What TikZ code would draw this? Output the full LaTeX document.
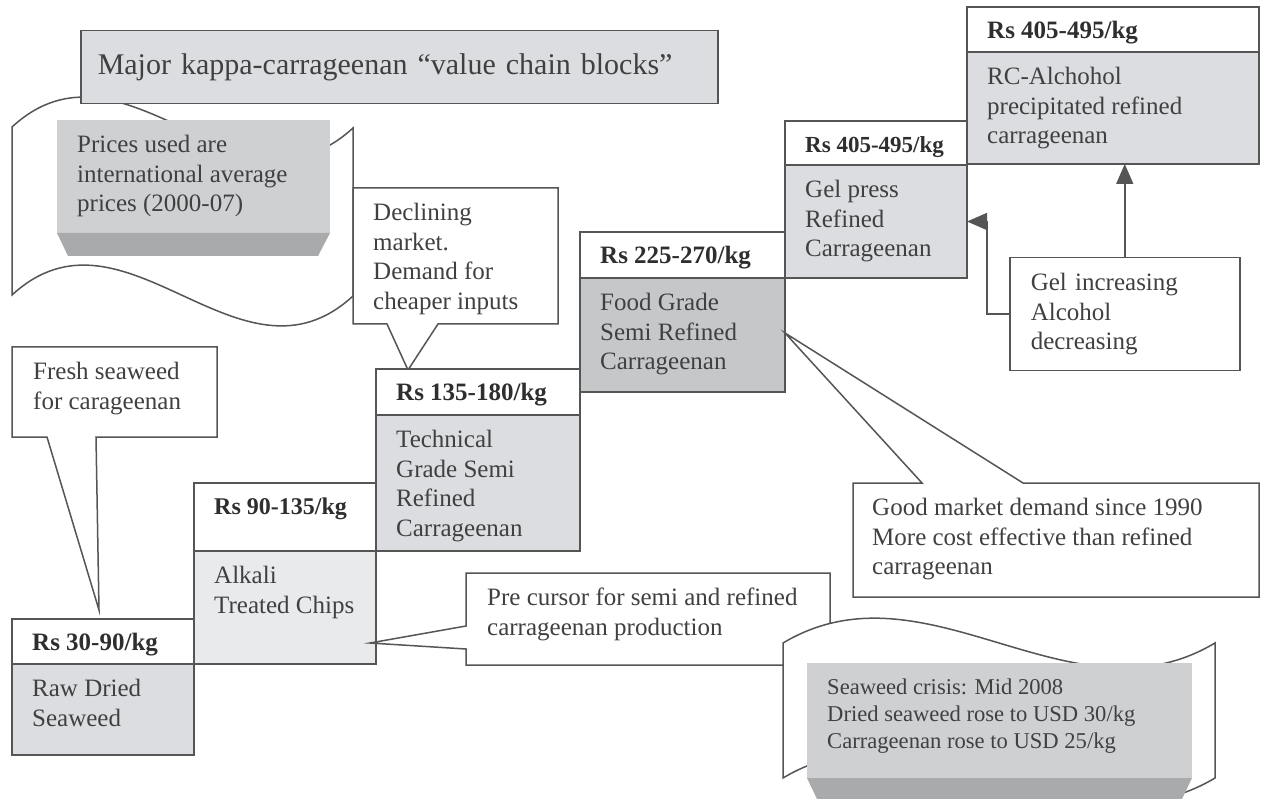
\documentclass[tikz,border=0pt]{standalone}
\usepackage{fontspec}
\setmainfont{Liberation Serif}
\usetikzlibrary{arrows.meta}
\usetikzlibrary{calc}
\usetikzlibrary{positioning}
\definecolor{linegray}{HTML}{555555}
\definecolor{textgray}{HTML}{404040}
\definecolor{pricegray}{HTML}{2E2E2E}
\definecolor{panelgray}{HTML}{DCDDE0}
\definecolor{palegray}{HTML}{E9EAEC}
\definecolor{darkgray}{HTML}{C6C7C9}
\definecolor{bevellight}{HTML}{CFD0D2}
\definecolor{beveldark}{HTML}{A9AAAC}
\newcommand{\bodyfont}{\fontsize{25}{29.5}\selectfont}
\newcommand{\smallbody}{\fontsize{22.6}{27}\selectfont}
\newcommand{\titlefont}{\fontsize{30}{36}\selectfont}
\tikzstyle{outline} = [draw=linegray, line width=1.5pt]
\tikzstyle{pricehead} = [outline, fill=white, anchor=north west, inner sep=0pt, outer sep=0pt]
\tikzstyle{pricebody} = [outline, inner sep=0pt, outer sep=0pt]
\tikzstyle{words} = [text=textgray, font=\bodyfont, align=left, inner sep=0pt, anchor=north west]
\tikzstyle{pricetag} = [text=pricegray, inner sep=0pt, anchor=west]
\tikzset{>={Triangle[length=20pt,width=17pt]}}

\begin{document}
\begin{tikzpicture}[x=1pt, y=-1pt]
  \useasboundingbox (0,0) rectangle (1261,799);
  % Wave banner, top left
  \draw[outline, fill=white] (12,127) .. controls (125,23) and (240,232) .. (353,128) -- (353,296) .. controls (240,400) and (125,191) .. (12,295) -- cycle;
  % Title
  \node[outline, fill=panelgray, anchor=north west, minimum width=637pt, minimum height=73pt, text width=603pt, inner xsep=17pt, align=left, text=textgray, font=\titlefont] (title) at (80,30) {Major kappa-carrageenan “value chain blocks”};
  % Bevelled note on the banner
  \fill[bevellight] (57,120) rectangle (330,233);
  \fill[beveldark] (57,233) -- (330,233) -- (318,256) -- (68,256) -- cycle;
  \node[words] (prices) at (77,135) {Prices used are\\international average\\prices (2000-07)};
  % Callouts above the steps
  \draw[outline, fill=white] (353,188) -- (558,188) -- (558,324) -- (438,324) -- (408,370) -- (387,324) -- (353,324) -- cycle;
  \node[words] (declining) at (373,203) {Declining\\market.\\Demand for\\cheaper inputs};
  \draw[outline, fill=white] (12,347) -- (217,347) -- (217,437) -- (96,437) -- (99,610) -- (47,437) -- (12,437) -- cycle;
  \node[words] (fresh) at (33,362) {Fresh seaweed\\for carageenan};
  % Value chain steps
  \foreach \n/\x/\y/\w/\hh/\bh/\shade/\ps/\price/\desc in {
    raw/12/619/182/45/91/panelgray/25/{Rs 30-90/kg}/{Raw Dried\\Seaweed},
    chips/194/483/182/68/113/palegray/24/{Rs 90-135/kg}/{Alkali\\Treated Chips},
    technical/376/369/204/46/136/panelgray/25/{Rs 135-180/kg}/{Technical\\Grade Semi\\Refined\\Carrageenan},
    food/580/232/205/46/114/darkgray/25/{Rs 225-270/kg}/{Food Grade\\Semi Refined\\Carrageenan},
    gel/785/121/182/44/113/panelgray/23/{Rs 405-495/kg}/{Gel press\\Refined\\Carrageenan},
    alcohol/967/7/292/45/112/panelgray/25/{Rs 405-495/kg}/{RC-Alchohol\\precipitated refined\\carrageenan}} {
    \node[pricehead, minimum width=\w*1pt, minimum height=\hh*1pt] (\n-head) at (\x,\y) {};
    \node[pricebody, fill=\shade, minimum width=\w*1pt, minimum height=\bh*1pt, below=0pt of \n-head] (\n-body) {};
    \node[pricetag, font=\fontsize{\ps}{30}\selectfont\bfseries] (\n-price) at ($(\n-head.north west)+(20,26)$) {\price};
    \node[words] (\n-text) at ($(\n-body.north west)+(20,15)$) {\desc};
  }
  % Callouts below the steps
  \draw[outline, fill=white] (853,483) -- (922,483) -- (785,333) -- (1023,483) -- (1259,483) -- (1259,597) -- (853,597) -- cycle;
  \node[words] (goodmarket) at (872,498) {Good market demand since 1990\\More cost effective than refined\\carrageenan};
  \draw[outline, fill=white] (466,573) -- (830,573) -- (830,665) -- (466,665) -- (466,649) -- (370,643) -- (466,626) -- cycle;
  \node[words] (precursor) at (487,588) {Pre cursor for semi and refined\\carrageenan production};
  % Wave banner, bottom right
  \draw[outline, fill=white] (783,643) .. controls (927,557) and (1071,729) .. (1215,643) -- (1215,778) .. controls (1071,864) and (927,692) .. (783,778) -- cycle;
  \fill[bevellight] (807,663) rectangle (1192,778);
  \fill[beveldark] (807,778) -- (1192,778) -- (1181,801) -- (818,801) -- cycle;
  \node[words, font=\smallbody] (crisis) at (827,679) {Seaweed crisis: Mid 2008\\Dried seaweed rose to USD 30/kg\\Carrageenan rose to USD 25/kg};
  % Gel / alcohol note with arrows
  \node[outline, fill=white, anchor=north west, minimum width=230pt, minimum height=113pt, text width=188pt, inner xsep=21pt, align=left, text=textgray, font=\bodyfont] (gelnote) at (1009,257) {Gel increasing\\Alcohol\\decreasing};
  \draw[outline, ->] (gelnote.west) -- ++(-22,0) |- (gel-body.east);
  \draw[outline, ->] (gelnote.north) -- (gelnote.north |- alcohol-body.south);
\end{tikzpicture}
\end{document}
